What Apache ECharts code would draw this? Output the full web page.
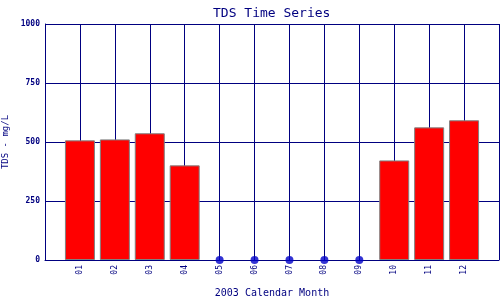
<!DOCTYPE html>
<html>
<head>
<meta charset="utf-8">
<script src="https://cdn.jsdelivr.net/npm/echarts@6/dist/echarts.min.js"></script>
<style>html,body{margin:0;padding:0;background:#fff}#c{width:500px;height:300px}</style>
</head>
<body>
<div id="c"></div>
<script>
var months = [1, 2, 3, 4, 5, 6, 7, 8, 9, 10, 11, 12];
var tds = [507, 511, 537, 401, null, null, null, null, null, 422, 562, 592];
var yTicks = [0, 250, 500, 750, 1000];

var NAVY = '#000080';
var FONT = 'DejaVu Sans Mono';

var barData = [];
var missData = [];
months.forEach(function (m, i) {
  if (tds[i] == null) missData.push([m, 0]);
  else barData.push([m, tds[i]]);
});

var chart = echarts.init(document.getElementById('c'), null, {renderer: 'canvas'});
chart.setOption({
  animation: false,
  backgroundColor: '#fff',
  title: {
    text: 'TDS Time Series',
    left: 208, top: 2,
    textStyle: {fontFamily: FONT, fontSize: 13, fontWeight: 'normal', color: NAVY}
  },
  grid: {left: 45, right: 1, top: 24, bottom: 40, containLabel: false, outerBoundsMode: 'none'},
  xAxis: {
    type: 'value', min: 0, max: 13, interval: 1,
    name: '2003 Calendar Month', nameLocation: 'middle', nameGap: 28,
    nameTextStyle: {fontFamily: FONT, fontSize: 10, color: NAVY},
    axisLine: {show: true, onZero: false, lineStyle: {color: NAVY, width: 1}},
    axisTick: {show: false},
    splitLine: {show: true, lineStyle: {color: NAVY, width: 1}},
    axisLabel: {
      rotate: 90, margin: 5, color: NAVY, fontFamily: FONT, fontSize: 8,
      formatter: function (v) {
        return (v >= 1 && v <= 12) ? (v < 10 ? '0' + v : '' + v) : '';
      }
    }
  },
  yAxis: {
    type: 'value', min: yTicks[0], max: yTicks[yTicks.length - 1], interval: 250,
    name: 'TDS - mg/L', nameLocation: 'middle', nameGap: 32,
    nameTextStyle: {fontFamily: FONT, fontSize: 9, color: NAVY},
    axisLine: {show: true, lineStyle: {color: NAVY, width: 1}},
    axisTick: {show: false},
    splitLine: {show: true, lineStyle: {color: NAVY, width: 1}},
    axisLabel: {
      margin: 5, color: NAVY, fontFamily: FONT, fontSize: 8, fontWeight: 'bold',
      formatter: function (v) { return '' + v; }
    }
  },
  series: [
    {
      type: 'bar', data: barData, barWidth: 30, z: 3,
      itemStyle: {color: '#ff0000', borderColor: '#808080', borderWidth: 1}
    },
    {
      type: 'scatter', data: missData, symbol: 'circle', symbolSize: 8, z: 4,
      itemStyle: {color: '#0000c8'}
    }
  ]
});
</script>
</body>
</html>
